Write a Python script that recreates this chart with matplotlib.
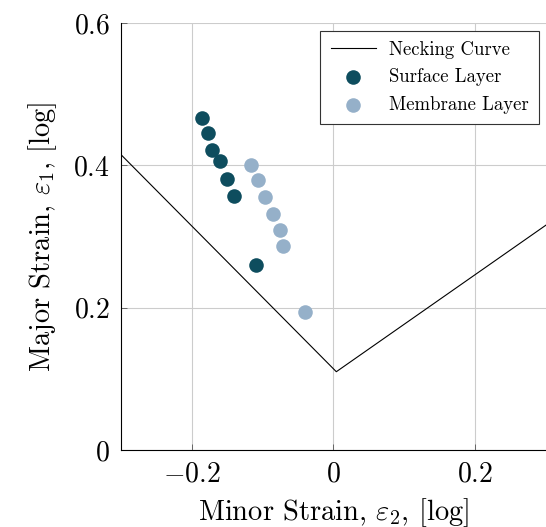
import matplotlib
matplotlib.use('Agg')
import matplotlib.pyplot as plt

plt.rcParams['font.family'] = 'serif'
plt.rcParams['font.serif'] = ['cmr10', 'DejaVu Serif']
plt.rcParams['mathtext.fontset'] = 'cm'
plt.rcParams['axes.unicode_minus'] = False

# curva de estricção (FLC)
neck_x = [-0.3, 0.004, 0.3]
neck_y = [0.415, 0.110, 0.316]

# camada superficial
surf_x = [-0.186, -0.177, -0.172, -0.160, -0.151, -0.141, -0.109]
surf_y = [0.466, 0.446, 0.421, 0.406, 0.381, 0.357, 0.260]

# camada de membrana
memb_x = [-0.117, -0.107, -0.096, -0.085, -0.075, -0.071, -0.040]
memb_y = [0.400, 0.380, 0.356, 0.332, 0.309, 0.286, 0.194]

xticks = [-0.2, 0, 0.2]
xlabels = ['$-0.2$', '$0$', '$0.2$']
yticks = [0, 0.2, 0.4, 0.6]
ylabels = ['$0$', '$0.2$', '$0.4$', '$0.6$']

fig = plt.figure(figsize=(5.46, 5.27), dpi=100)
ax = fig.add_axes([0.2216, 0.1461, 0.7784, 0.8103])

ax.plot(neck_x, neck_y, color='black', linewidth=0.8, label='Necking Curve', zorder=3)
ax.scatter(surf_x, surf_y, s=110, color='#0e4d5e', label='Surface Layer', zorder=4, linewidths=0)
ax.scatter(memb_x, memb_y, s=110, color='#95b0c9', label='Membrane Layer', zorder=4, linewidths=0)

ax.set_xlim(-0.3, 0.3)
ax.set_ylim(0, 0.6)
ax.set_xticks(xticks)
ax.set_xticklabels(xlabels)
ax.set_yticks(yticks)
ax.set_yticklabels(ylabels)
ax.tick_params(direction='in', length=4, width=0.6, color='#555555', labelsize=20, pad=8)
ax.grid(True, color='#cccccc', linewidth=0.8)
ax.set_axisbelow(True)

ax.spines['top'].set_visible(False)
ax.spines['right'].set_visible(False)
ax.spines['left'].set_linewidth(0.8)
ax.spines['bottom'].set_linewidth(0.8)

ax.set_xlabel(r'Minor Strain, $\varepsilon_2$, [log]', fontsize=20.5, labelpad=6)
ax.set_ylabel(r'Major Strain, $\varepsilon_1$, [log]', fontsize=20.5, labelpad=10)

leg = ax.legend(loc='upper right', bbox_to_anchor=(0.983, 0.982), fontsize=13.5,
                fancybox=False, framealpha=1, edgecolor='#333333', borderpad=0.55,
                handlelength=2.4, handletextpad=0.7, labelspacing=0.5, borderaxespad=0)
leg.get_frame().set_linewidth(0.8)

plt.savefig('out.png', dpi=100)
